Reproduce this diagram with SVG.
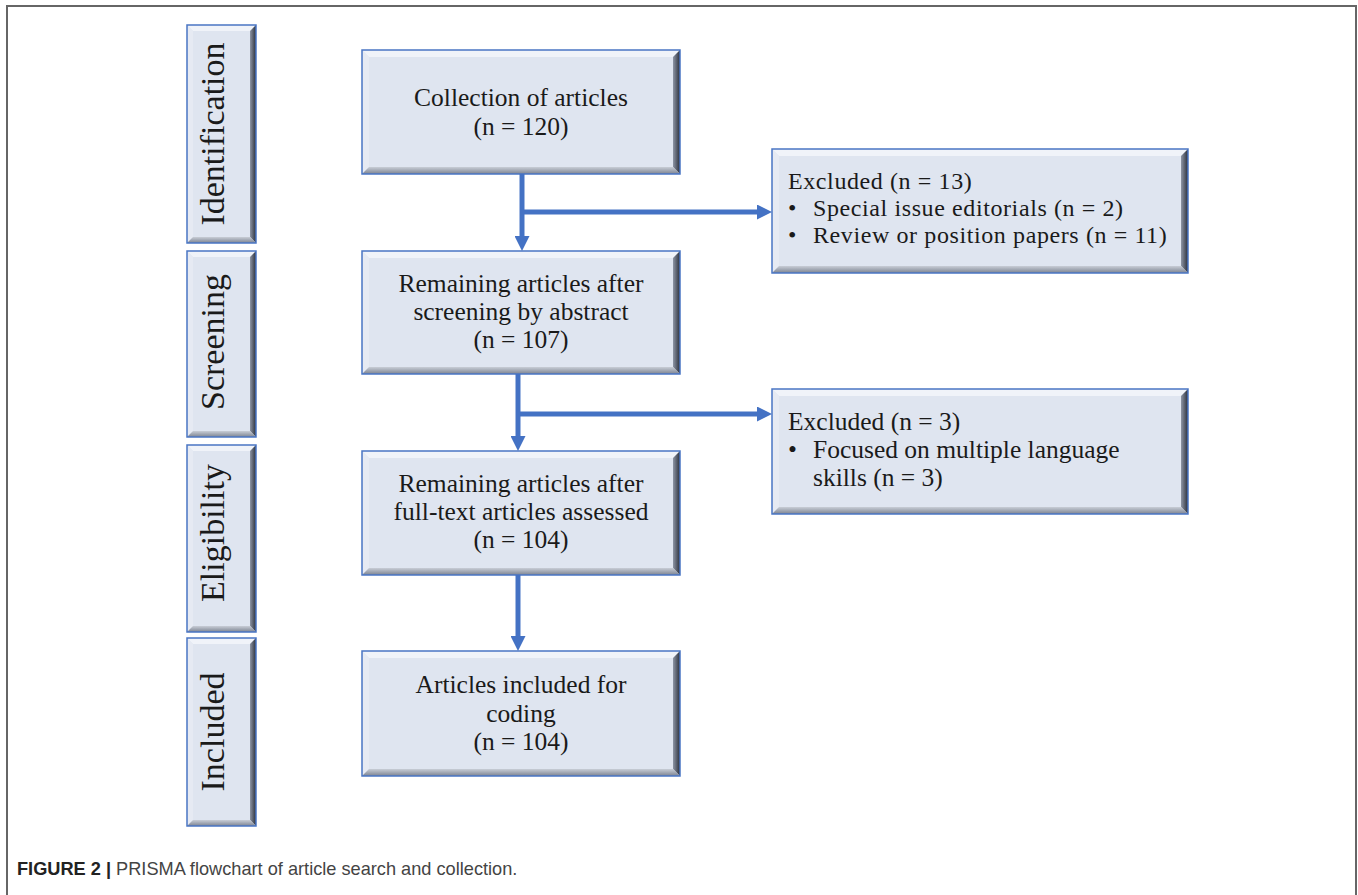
<svg xmlns="http://www.w3.org/2000/svg" width="1358" height="895" viewBox="0 0 1358 895">
<defs>
<style>
.base{fill:#dfe5f0;}
.top{fill:#f0f3f9;}
.left{fill:#e6eaf3;}
.right{fill:url(#gR);}
.bot{fill:url(#gB);}
.edge{fill:none;stroke:#4a76c4;stroke-width:1.5;}
.lbl{font-family:"Liberation Serif",serif;font-size:34px;fill:#1a1a1a;text-anchor:middle;}
.main{font-family:"Liberation Serif",serif;font-size:25.5px;fill:#1a1a1a;text-anchor:middle;}
.exc{font-family:"Liberation Serif",serif;font-size:25.5px;fill:#1a1a1a;}
.exc1{font-family:"Liberation Serif",serif;font-size:24px;letter-spacing:0.6px;fill:#1a1a1a;}
.conn{fill:none;stroke:#4472c4;stroke-width:5;}
.cap{font-family:"Liberation Sans",sans-serif;font-size:18.2px;fill:#444;}
</style>
<linearGradient id="gR" x1="0" y1="0" x2="1" y2="0">
<stop offset="0" stop-color="#8d95a5"/><stop offset="1" stop-color="#2a2f3a"/>
</linearGradient>
<linearGradient id="gB" x1="0" y1="0" x2="0" y2="1">
<stop offset="0" stop-color="#c8cdd6"/><stop offset="1" stop-color="#7c8391"/>
</linearGradient>
<marker id="ah" markerUnits="userSpaceOnUse" markerWidth="15" markerHeight="15" refX="0" refY="7.5" orient="auto">
<path d="M0,0 L15,7.5 L0,15 z" fill="#4472c4"/>
</marker>
</defs>
<rect width="1358" height="895" fill="#ffffff"/>
<path d="M7,895 V6 H1356 V895" fill="none" stroke="#666" stroke-width="2"/>

<g id="phase-identification">
<rect class="base" x="187" y="25" width="69" height="218"/>
<polygon class="top" points="187,25 256,25 250,31 193,31"/>
<polygon class="left" points="187,25 193,31 193,237 187,243"/>
<polygon class="right" points="256,25 256,243 250,237 250,31"/>
<polygon class="bot" points="187,243 256,243 250,237 193,237"/>
<rect class="edge" x="187" y="25" width="69" height="218"/>
<text class="lbl" transform="translate(224,134) rotate(-90)">Identification</text>
</g>
<g id="phase-screening">
<rect class="base" x="187" y="251" width="69" height="186"/>
<polygon class="top" points="187,251 256,251 250,257 193,257"/>
<polygon class="left" points="187,251 193,257 193,431 187,437"/>
<polygon class="right" points="256,251 256,437 250,431 250,257"/>
<polygon class="bot" points="187,437 256,437 250,431 193,431"/>
<rect class="edge" x="187" y="251" width="69" height="186"/>
<text class="lbl" transform="translate(224,342) rotate(-90)">Screening</text>
</g>
<g id="phase-eligibility">
<rect class="base" x="187" y="445" width="69" height="187"/>
<polygon class="top" points="187,445 256,445 250,451 193,451"/>
<polygon class="left" points="187,445 193,451 193,626 187,632"/>
<polygon class="right" points="256,445 256,632 250,626 250,451"/>
<polygon class="bot" points="187,632 256,632 250,626 193,626"/>
<rect class="edge" x="187" y="445" width="69" height="187"/>
<text class="lbl" transform="translate(224,533) rotate(-90)">Eligibility</text>
</g>
<g id="phase-included">
<rect class="base" x="187" y="638" width="69" height="188"/>
<polygon class="top" points="187,638 256,638 250,644 193,644"/>
<polygon class="left" points="187,638 193,644 193,820 187,826"/>
<polygon class="right" points="256,638 256,826 250,820 250,644"/>
<polygon class="bot" points="187,826 256,826 250,820 193,820"/>
<rect class="edge" x="187" y="638" width="69" height="188"/>
<text class="lbl" transform="translate(224,732) rotate(-90)">Included</text>
</g>

<g id="collection">
<rect class="base" x="362" y="50" width="318" height="124"/>
<polygon class="top" points="362,50 680,50 673,57 369,57"/>
<polygon class="left" points="362,50 369,57 369,167 362,174"/>
<polygon class="right" points="680,50 680,174 673,167 673,57"/>
<polygon class="bot" points="362,174 680,174 673,167 369,167"/>
<rect class="edge" x="362" y="50" width="318" height="124"/>
<text class="main" x="521" y="106">Collection of articles</text>
<text class="main" x="521" y="135">(n = 120)</text>
</g>
<g id="screened">
<rect class="base" x="362" y="251" width="318" height="123"/>
<polygon class="top" points="362,251 680,251 673,258 369,258"/>
<polygon class="left" points="362,251 369,258 369,367 362,374"/>
<polygon class="right" points="680,251 680,374 673,367 673,258"/>
<polygon class="bot" points="362,374 680,374 673,367 369,367"/>
<rect class="edge" x="362" y="251" width="318" height="123"/>
<text class="main" x="521" y="292">Remaining articles after</text>
<text class="main" x="521" y="320">screening by abstract</text>
<text class="main" x="521" y="348">(n = 107)</text>
</g>
<g id="eligible">
<rect class="base" x="362" y="451" width="318" height="124"/>
<polygon class="top" points="362,451 680,451 673,458 369,458"/>
<polygon class="left" points="362,451 369,458 369,568 362,575"/>
<polygon class="right" points="680,451 680,575 673,568 673,458"/>
<polygon class="bot" points="362,575 680,575 673,568 369,568"/>
<rect class="edge" x="362" y="451" width="318" height="124"/>
<text class="main" x="521" y="492">Remaining articles after</text>
<text class="main" x="521" y="520">full-text articles assessed</text>
<text class="main" x="521" y="548">(n = 104)</text>
</g>
<g id="included">
<rect class="base" x="362" y="651" width="318" height="125"/>
<polygon class="top" points="362,651 680,651 673,658 369,658"/>
<polygon class="left" points="362,651 369,658 369,769 362,776"/>
<polygon class="right" points="680,651 680,776 673,769 673,658"/>
<polygon class="bot" points="362,776 680,776 673,769 369,769"/>
<rect class="edge" x="362" y="651" width="318" height="125"/>
<text class="main" x="521" y="693">Articles included for</text>
<text class="main" x="521" y="722">coding</text>
<text class="main" x="521" y="750">(n = 104)</text>
</g>

<g id="excluded-1">
<rect class="base" x="772" y="149" width="416" height="124"/>
<polygon class="top" points="772,149 1188,149 1181,156 779,156"/>
<polygon class="left" points="772,149 779,156 779,266 772,273"/>
<polygon class="right" points="1188,149 1188,273 1181,266 1181,156"/>
<polygon class="bot" points="772,273 1188,273 1181,266 779,266"/>
<rect class="edge" x="772" y="149" width="416" height="124"/>
<text class="exc1" x="788" y="189">Excluded (n = 13)</text>
<text class="exc1" x="788" y="216">•</text>
<text class="exc1" x="813" y="216">Special issue editorials (n = 2)</text>
<text class="exc1" x="788" y="243">•</text>
<text class="exc1" x="813" y="243">Review or position papers (n = 11)</text>
</g>
<g id="excluded-2">
<rect class="base" x="772" y="389" width="416" height="125"/>
<polygon class="top" points="772,389 1188,389 1181,396 779,396"/>
<polygon class="left" points="772,389 779,396 779,507 772,514"/>
<polygon class="right" points="1188,389 1188,514 1181,507 1181,396"/>
<polygon class="bot" points="772,514 1188,514 1181,507 779,507"/>
<rect class="edge" x="772" y="389" width="416" height="125"/>
<text class="exc" x="788" y="430">Excluded (n = 3)</text>
<text class="exc" x="788" y="458">•</text>
<text class="exc" x="813" y="458">Focused on multiple language</text>
<text class="exc" x="813" y="486">skills (n = 3)</text>
</g>

<g id="connectors">
<path class="conn" d="M522,174 V236" marker-end="url(#ah)"/>
<path class="conn" d="M522,212 H757" marker-end="url(#ah)"/>
<path class="conn" d="M518,374 V436" marker-end="url(#ah)"/>
<path class="conn" d="M518,414 H757" marker-end="url(#ah)"/>
<path class="conn" d="M518,575 V636" marker-end="url(#ah)"/>
</g>

<text class="cap" x="17" y="875"><tspan font-weight="bold" fill="#222">FIGURE 2 |</tspan> PRISMA flowchart of article search and collection.</text>
</svg>
